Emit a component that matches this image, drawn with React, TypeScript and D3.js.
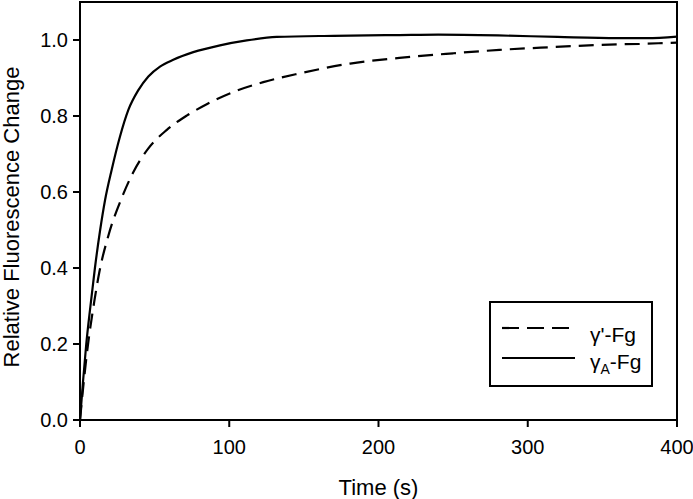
import React from "react";
import * as d3 from "d3";

const xTicks = [0, 100, 200, 300, 400];
const yTicks = [0.0, 0.2, 0.4, 0.6, 0.8, 1.0];

const gammaPrimeTime = [0, 2.5, 5.4, 9.5, 13, 19, 28, 35.7, 45.8, 58, 71.5, 84.9, 102.7, 122.8, 147, 181, 214, 250, 281, 315, 348, 375, 400];
const gammaPrimeValue = [0, 0.1, 0.2, 0.31, 0.39, 0.485, 0.585, 0.652, 0.715, 0.763, 0.801, 0.831, 0.863, 0.889, 0.912, 0.938, 0.953, 0.965, 0.974, 0.981, 0.987, 0.99, 0.993];

const gammaATime = [0, 2, 4.2, 7, 10, 13.5, 16.8, 21.2, 26.8, 32.4, 39.1, 45.8, 53.6, 62.5, 75.9, 93.8, 111.7, 131.8, 170, 214, 240, 280, 320, 360, 380, 400];
const gammaAValue = [0, 0.1, 0.2, 0.3, 0.4, 0.5, 0.579, 0.658, 0.746, 0.816, 0.868, 0.904, 0.93, 0.948, 0.968, 0.986, 0.999, 1.008, 1.011, 1.013, 1.014, 1.012, 1.008, 1.005, 1.005, 1.009];

const W = 693;
const H = 499;
const left = 80, right = 677, top = 2, bottom = 420;
const FONT = "Liberation Sans, Arial, sans-serif";

export default function App() {
  const x = d3.scaleLinear().domain([0, 400]).range([left, right]);
  const y = d3.scaleLinear().domain([0, 1.1]).range([bottom, top]);

  const line = d3
    .line<[number, number]>()
    .x((d) => x(d[0]))
    .y((d) => y(d[1]))
    .curve(d3.curveMonotoneX);

  const dashedPts = gammaPrimeTime.map((t, i) => [t, gammaPrimeValue[i]] as [number, number]);
  const solidPts = gammaATime.map((t, i) => [t, gammaAValue[i]] as [number, number]);

  return (
    <svg
      width={W}
      height={H}
      style={{ position: "absolute", left: 0, top: 0, background: "#fff" }}
      fontFamily={FONT}
    >
      <rect x={0} y={0} width={W} height={H} fill="#fff" />
      <defs>
        <clipPath id="plotclip">
          <rect x={left} y={top} width={right - left} height={bottom - top} />
        </clipPath>
      </defs>
      <g clipPath="url(#plotclip)">
        <path d={line(dashedPts) || ""} fill="none" stroke="#000" strokeWidth={2.2} strokeDasharray="15,8" />
        <path d={line(solidPts) || ""} fill="none" stroke="#000" strokeWidth={2.2} />
      </g>
      {/* frame */}
      <rect x={left} y={top} width={right - left} height={bottom - top} fill="none" stroke="#000" strokeWidth={2} />
      {/* y ticks */}
      {yTicks.map((t) => (
        <g key={"y" + t}>
          <line x1={left - 7} x2={left} y1={y(t)} y2={y(t)} stroke="#000" strokeWidth={2} />
          <text x={left - 12} y={y(t)} dy="0.36em" textAnchor="end" fontSize={20} fill="#000">
            {t.toFixed(1)}
          </text>
        </g>
      ))}
      {/* x ticks */}
      {xTicks.map((t) => (
        <g key={"x" + t}>
          <line x1={x(t)} x2={x(t)} y1={bottom} y2={bottom + 7} stroke="#000" strokeWidth={2} />
          <text x={x(t)} y={454} textAnchor="middle" fontSize={20} fill="#000">
            {t}
          </text>
        </g>
      ))}
      <text x={(left + right) / 2} y={495} textAnchor="middle" fontSize={22} fill="#000">
        Time (s)
      </text>
      <text
        transform={`translate(19,${(top + bottom) / 2 + 6}) rotate(-90)`}
        textAnchor="middle"
        fontSize={22}
        fill="#000"
      >
        Relative Fluorescence Change
      </text>
      {/* legend */}
      <rect x={490} y={302} width={162} height={84} fill="#fff" stroke="#000" strokeWidth={2} />
      <line x1={502} x2={575} y1={328} y2={328} stroke="#000" strokeWidth={2.2} strokeDasharray="17,8" />
      <line x1={502} x2={575} y1={358} y2={358} stroke="#000" strokeWidth={2.2} />
      <text x={590} y={342} fontSize={21} fill="#000">
        γ'-Fg
      </text>
      <text x={590} y={369} fontSize={21} fill="#000">
        γ<tspan fontSize={14} dy={5}>A</tspan>
        <tspan dy={-5}>-Fg</tspan>
      </text>
    </svg>
  );
}
